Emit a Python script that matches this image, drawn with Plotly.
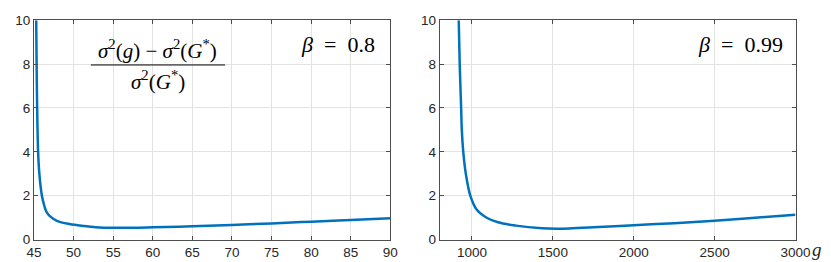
import plotly.graph_objects as go

# beta = 0.8 panel
g_left = [45.28, 45.33, 45.40, 45.45, 45.52, 45.68, 46.0, 46.3, 46.6, 47.0, 47.9, 49.5, 51.0, 52.8, 55, 57.5, 60, 65, 70, 75, 80, 85, 90]
v_left = [10.0, 8.0, 6.0, 5.0, 4.0, 3.0, 2.0, 1.55, 1.25, 1.07, 0.86, 0.71, 0.63, 0.57, 0.54, 0.54, 0.56, 0.61, 0.67, 0.74, 0.82, 0.90, 0.97]

# beta = 0.99 panel
g_right = [918, 924, 933, 937, 946, 962, 990, 1030, 1091, 1161, 1272, 1434, 1520, 1600, 1750, 2000, 2250, 2500, 2750, 3000]
v_right = [10.0, 8.0, 6.0, 5.0, 4.0, 3.0, 2.0, 1.36, 1.0, 0.79, 0.64, 0.52, 0.50, 0.51, 0.56, 0.66, 0.75, 0.86, 1.0, 1.14]

left_ticks = [45, 50, 55, 60, 65, 70, 75, 80, 85, 90]
right_ticks = [1000, 1500, 2000, 2500, 3000]
y_ticks = [0, 2, 4, 6, 8, 10]

blue = "#0072BD"
fig = go.Figure()
fig.add_trace(go.Scatter(x=g_left, y=v_left, mode="lines", line=dict(color=blue, width=2.5, shape="spline", smoothing=1.0),
                         xaxis="x", yaxis="y", showlegend=False))
fig.add_trace(go.Scatter(x=g_right, y=v_right, mode="lines", line=dict(color=blue, width=2.5, shape="spline", smoothing=1.0),
                         xaxis="x2", yaxis="y2", showlegend=False))

axcommon = dict(showline=True, linecolor="#4d4d4d", linewidth=1, mirror="ticks", ticks="inside", ticklen=4,
                tickcolor="#4d4d4d", showgrid=True, gridcolor="#e3e3e3", gridwidth=1, zeroline=False,
                ticklabeloverflow="allow",
                tickfont=dict(family="Liberation Sans, Arial", size=13.5, color="#262626"))

fig.update_layout(
    width=831, height=262, margin=dict(l=0, r=0, t=0, b=0),
    plot_bgcolor="white", paper_bgcolor="white",
    xaxis=dict(domain=[18.5/831, 385/831], range=[45, 90], tickvals=left_ticks, anchor="y", **axcommon),
    yaxis=dict(domain=[1-238.3/262, 1-5.5/262], range=[0, 10], tickvals=y_ticks, anchor="x", **axcommon),
    xaxis2=dict(domain=[435.7/831, 801.7/831], range=[800, 3000], tickvals=right_ticks, anchor="y2", **axcommon),
    yaxis2=dict(domain=[1-238.3/262, 1-5.5/262], range=[0, 10], tickvals=y_ticks, anchor="x2", **axcommon),
)

serif = "Liberation Serif, DejaVu Serif, serif"
ann = []
ann.append(dict(xref="paper", yref="paper", x=146/831, y=1-37/262,
                text="<i>σ</i><sup>2</sup>(<i>g</i>) − <i>σ</i><sup>2</sup>(<i>G</i><sup>*</sup>)",
                showarrow=False, font=dict(family=serif, size=21, color="black"), xanchor="center", yanchor="middle"))
ann.append(dict(xref="paper", yref="paper", x=146/831, y=1-70/262, text="<i>σ</i><sup>2</sup>(<i>G</i><sup>*</sup>)",
                showarrow=False, font=dict(family=serif, size=21, color="black"), xanchor="center", yanchor="middle"))
ann.append(dict(xref="paper", yref="paper", x=371/831, y=1-31/262, text="<i>β</i>&nbsp;&nbsp;=&nbsp;&nbsp;0.8",
                showarrow=False, font=dict(family=serif, size=22, color="black"), xanchor="right", yanchor="middle"))
ann.append(dict(xref="paper", yref="paper", x=791/831, y=1-31/262, text="<i>β</i>&nbsp;&nbsp;=&nbsp;&nbsp;0.99",
                showarrow=False, font=dict(family=serif, size=22, color="black"), xanchor="right", yanchor="middle"))
ann.append(dict(xref="paper", yref="paper", x=824/831, y=1-249/262, text="<i>g</i>",
                showarrow=False, font=dict(family=serif, size=19, color="#262626"), xanchor="center", yanchor="middle"))
fig.update_layout(annotations=ann)
fig.add_shape(type="line", xref="paper", yref="paper", x0=77/831, x1=215/831, y0=1-53/262, y1=1-53/262,
              line=dict(color="black", width=1))

fig.write_html("out.html")
